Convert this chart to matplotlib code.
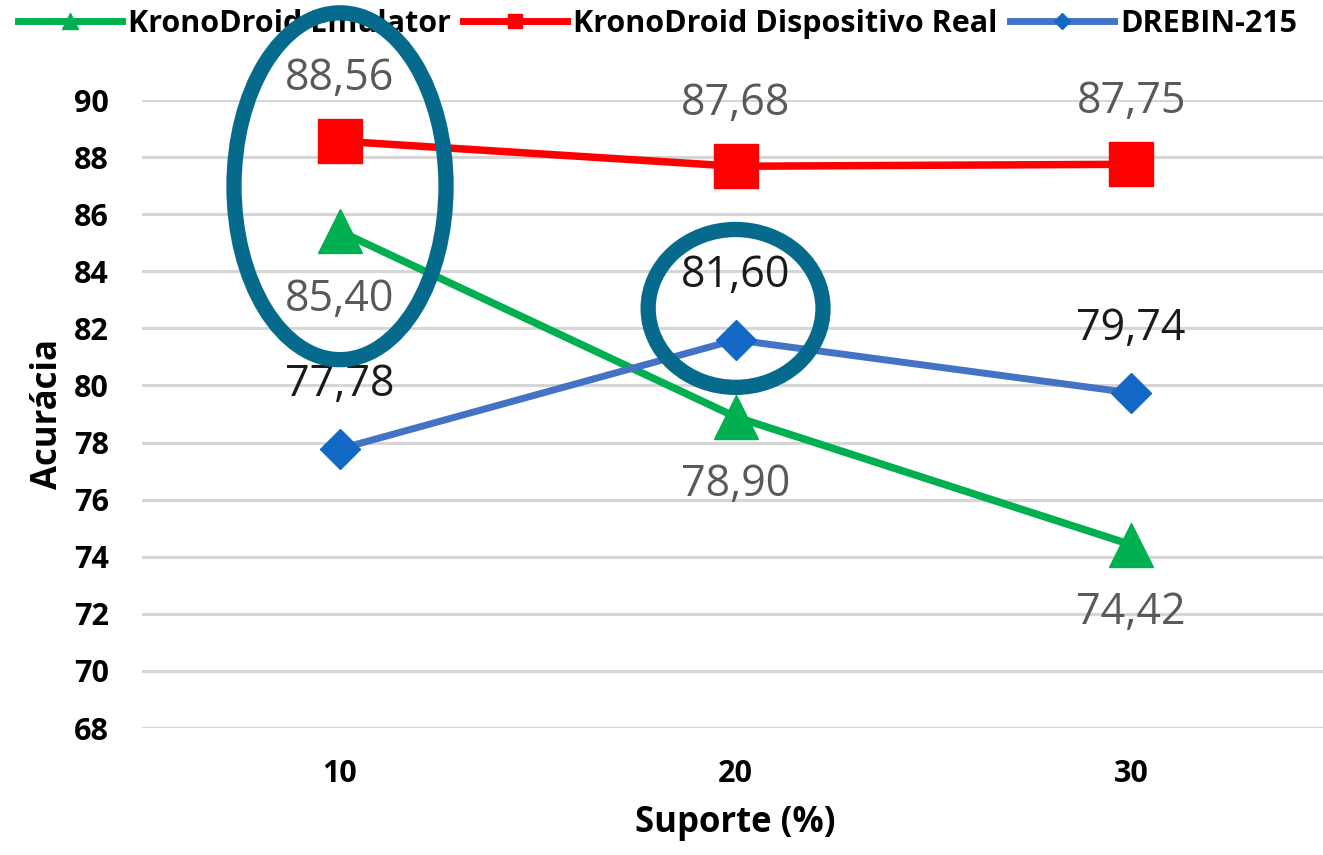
import matplotlib
matplotlib.use("Agg")
import matplotlib.pyplot as plt
from matplotlib.lines import Line2D
from matplotlib.patches import Ellipse

# Support thresholds and accuracy per dataset
categories = ["10", "20", "30"]
emulator = [85.40, 78.90, 74.42]
real_device = [88.56, 87.68, 87.75]
drebin = [77.78, 81.60, 79.74]
series_names = ["KronoDroid Emulator", "KronoDroid Dispositivo Real", "DREBIN-215"]
y_ticks = [68, 70, 72, 74, 76, 78, 80, 82, 84, 86, 88, 90]

plt.rcParams["font.family"] = ["Open Sans", "DejaVu Sans"]

fig = plt.figure(figsize=(13.23, 8.55), dpi=100)
ax = fig.add_axes([0.1075, 0.1485, 0.897, 0.7345])

x = list(range(len(categories)))

GREEN, RED = "#00b050", "#ff0000"
BLUE_LINE, BLUE_MARK = "#4472c4", "#1268c4"

ax.plot(x, emulator, color=GREEN, lw=5.4, marker="^", ms=31,
        mfc=GREEN, mec=GREEN, zorder=3)
ax.plot(x, real_device, color=RED, lw=5.4, marker="s", ms=31,
        mfc=RED, mec=RED, zorder=3)
ax.plot(x, drebin, color=BLUE_LINE, lw=5.0, marker="D", ms=20,
        mfc=BLUE_MARK, mec=BLUE_MARK, zorder=3)


def fmt(v):
    return f"{v:.2f}".replace(".", ",")


LABEL_SIZE = 31
for xi, v in zip(x, real_device):
    ax.annotate(fmt(v), (xi, v), xytext=(0, 45), textcoords="offset points",
                ha="center", va="center", fontsize=LABEL_SIZE, color="#595959",
                annotation_clip=False, zorder=4)
for xi, v in zip(x, emulator):
    ax.annotate(fmt(v), (xi, v), xytext=(0, -49), textcoords="offset points",
                ha="center", va="center", fontsize=LABEL_SIZE, color="#595959",
                annotation_clip=False, zorder=4)
for xi, v in zip(x, drebin):
    ax.annotate(fmt(v), (xi, v), xytext=(0, 46), textcoords="offset points",
                ha="center", va="center", fontsize=LABEL_SIZE, color="#1a1a1a",
                annotation_clip=False, zorder=4)

ax.set_xlim(-0.5, 2.5)
ax.set_ylim(68, 90)
ax.set_xticks(x)
ax.set_xticklabels(categories, fontsize=22, fontweight="bold")
ax.set_yticks(y_ticks)
ax.set_yticklabels([str(t) for t in y_ticks], fontsize=22, fontweight="bold")
ax.tick_params(length=0)
ax.tick_params(axis="x", pad=22)
ax.tick_params(axis="y", pad=24)
ax.grid(axis="y", color="#d6d6d6", lw=2.2, zorder=0)
ax.set_axisbelow(True)
for s in ax.spines.values():
    s.set_visible(False)

ax.set_xlabel("Suporte (%)", fontsize=25, fontweight="bold", labelpad=12)
ax.set_ylabel("Acurácia", fontsize=25, fontweight="bold", labelpad=6)

handles = [
    Line2D([], [], color=GREEN, lw=5, marker="^", ms=11),
    Line2D([], [], color=RED, lw=5, marker="s", ms=10),
    Line2D([], [], color=BLUE_LINE, lw=5, marker="D", ms=8, mfc=BLUE_MARK, mec=BLUE_MARK),
]
leg = ax.legend(handles, series_names, loc="center", ncol=3, frameon=False,
                bbox_to_anchor=(0.497, 0.972), bbox_transform=fig.transFigure,
                prop={"weight": "bold", "size": 22}, handlelength=3.4,
                handletextpad=0.2, columnspacing=0.4, borderaxespad=0)
leg.set_zorder(5)

# Highlight rings around the points of interest
RING = "#056a8c"
ax.add_patch(Ellipse((x[0], (real_device[0] + emulator[0]) / 2), 0.536, 12.15,
                     fill=False, ec=RING, lw=11, zorder=10, clip_on=False))
ax.add_patch(Ellipse((x[1], drebin[1] + 1.1), 0.442, 5.53,
                     fill=False, ec=RING, lw=11, zorder=10, clip_on=False))

fig.savefig("out.png", dpi=100, facecolor="white")
